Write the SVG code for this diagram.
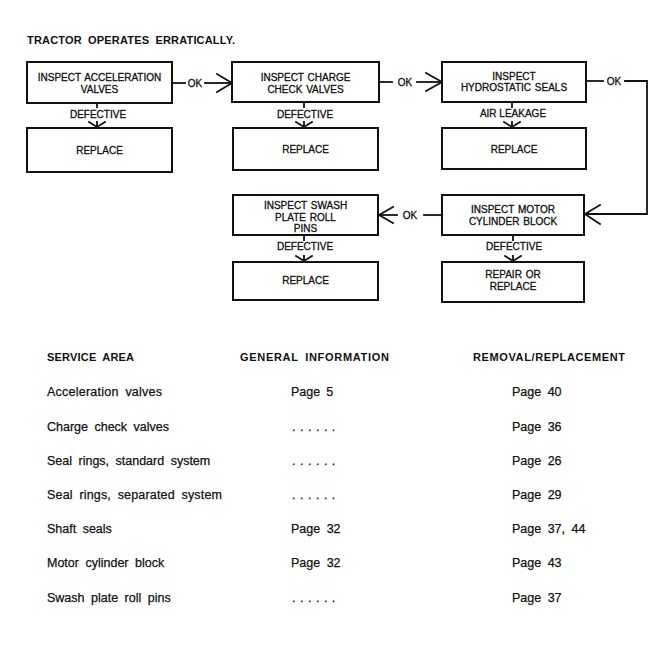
<svg xmlns="http://www.w3.org/2000/svg" width="667" height="668" viewBox="0 0 667 668">
<style>
.bg{fill:#fff}
.box{fill:#fff;stroke:#111;stroke-width:2}
.ln{fill:none;stroke:#111;stroke-width:1.8;stroke-linecap:square}
.bt{font-family:"Liberation Sans",Arial,sans-serif;font-size:10px;fill:#111;stroke:#111;stroke-width:0.3;text-anchor:middle;word-spacing:1px}
.lb{font-family:"Liberation Sans",Arial,sans-serif;font-size:10px;fill:#111;stroke:#111;stroke-width:0.3;text-anchor:middle}
.title{font-family:"Liberation Sans",Arial,sans-serif;font-size:11px;font-weight:bold;fill:#111;word-spacing:3px}
.th{font-family:"Liberation Sans",Arial,sans-serif;font-size:11px;font-weight:bold;fill:#111;word-spacing:3px}
.td{font-family:"Liberation Sans",Arial,sans-serif;font-size:12.5px;fill:#111;stroke:#111;stroke-width:0.25;word-spacing:3px}
.dots{font-family:"Liberation Sans",Arial,sans-serif;font-size:12.5px;fill:#111;stroke:#111;stroke-width:0.25;letter-spacing:4.5px}
</style>
<rect class="bg" x="0" y="0" width="667" height="668"/>
<text class="title" x="27" y="44" textLength="208" lengthAdjust="spacing">TRACTOR OPERATES ERRATICALLY.</text>

<g id="connectors">
  <line class="ln" x1="172" y1="83" x2="185" y2="83"/>
  <text class="lb" x="195" y="87">OK</text>
  <line class="ln" x1="205" y1="83" x2="231" y2="83"/>
  <polyline class="ln" points="217,74 232,83 217,92"/>

  <line class="ln" x1="379" y1="82" x2="392" y2="82"/>
  <text class="lb" x="405" y="86">OK</text>
  <line class="ln" x1="417" y1="82" x2="441" y2="82"/>
  <polyline class="ln" points="426,73 442,82 426,91"/>

  <line class="ln" x1="586" y1="81" x2="603" y2="81"/>
  <text class="lb" x="614" y="85">OK</text>
  <polyline class="ln" points="625,81 647,81 647,214 586,214"/>
  <polyline class="ln" points="600,205 585,214 600,224"/>

  <line class="ln" x1="442" y1="215" x2="424" y2="215"/>
  <text class="lb" x="410" y="219">OK</text>
  <line class="ln" x1="397" y1="215" x2="380" y2="215"/>
  <polyline class="ln" points="393,207 379,215 393,223"/>

  <line class="ln" x1="97" y1="103" x2="97" y2="107"/>
  <text class="lb" x="98" y="118">DEFECTIVE</text>
  <polyline class="ln" points="89,122 97,127 105,122"/>
  <line class="ln" x1="97" y1="122" x2="97" y2="127"/>

  <line class="ln" x1="304" y1="102" x2="304" y2="107"/>
  <text class="lb" x="305" y="118">DEFECTIVE</text>
  <polyline class="ln" points="296,122 304,127 312,122"/>
  <line class="ln" x1="304" y1="122" x2="304" y2="127"/>

  <line class="ln" x1="512" y1="102" x2="512" y2="107"/>
  <text class="lb" x="513" y="117">AIR LEAKAGE</text>
  <polyline class="ln" points="504,122 512,127 520,122"/>
  <line class="ln" x1="512" y1="122" x2="512" y2="127"/>

  <line class="ln" x1="304" y1="235" x2="304" y2="240"/>
  <text class="lb" x="305" y="250">DEFECTIVE</text>
  <polyline class="ln" points="296,256 304,261 312,256"/>
  <line class="ln" x1="304" y1="256" x2="304" y2="261"/>

  <line class="ln" x1="513" y1="235" x2="513" y2="240"/>
  <text class="lb" x="514" y="250">DEFECTIVE</text>
  <polyline class="ln" points="505,256 513,261 521,256"/>
  <line class="ln" x1="513" y1="256" x2="513" y2="261"/>
</g>

<g id="n1"><rect class="box" x="27" y="62" width="145" height="41"/>
<text class="bt" x="99.5" y="81">INSPECT ACCELERATION</text><text class="bt" x="99.5" y="93">VALVES</text></g>
<g id="r1"><rect class="box" x="27" y="128" width="145" height="44"/>
<text class="bt" x="99.5" y="154">REPLACE</text></g>

<g id="n2"><rect class="box" x="232" y="62" width="147" height="40"/>
<text class="bt" x="305.5" y="81">INSPECT CHARGE</text><text class="bt" x="305.5" y="93">CHECK VALVES</text></g>
<g id="r2"><rect class="box" x="233" y="128" width="145" height="42"/>
<text class="bt" x="305.5" y="153">REPLACE</text></g>

<g id="n3"><rect class="box" x="442" y="62" width="144" height="40"/>
<text class="bt" x="514" y="80">INSPECT</text><text class="bt" x="514" y="91">HYDROSTATIC SEALS</text></g>
<g id="r3"><rect class="box" x="442" y="128" width="144" height="41"/>
<text class="bt" x="514" y="153">REPLACE</text></g>

<g id="n4"><rect class="box" x="442" y="195" width="142" height="40"/>
<text class="bt" x="513" y="213">INSPECT MOTOR</text><text class="bt" x="513" y="225">CYLINDER BLOCK</text></g>
<g id="r4"><rect class="box" x="442" y="262" width="142" height="40"/>
<text class="bt" x="513" y="278">REPAIR OR</text><text class="bt" x="513" y="290">REPLACE</text></g>

<g id="n5"><rect class="box" x="233" y="195" width="145" height="40"/>
<text class="bt" x="305.5" y="209">INSPECT SWASH</text><text class="bt" x="305.5" y="221">PLATE ROLL</text><text class="bt" x="305.5" y="232">PINS</text></g>
<g id="r5"><rect class="box" x="233" y="262" width="145" height="38"/>
<text class="bt" x="305.5" y="284">REPLACE</text></g>

<g id="table">
  <text class="th" x="47" y="361" textLength="87" lengthAdjust="spacing">SERVICE AREA</text>
  <text class="th" x="240" y="361" textLength="149" lengthAdjust="spacing">GENERAL INFORMATION</text>
  <text class="th" x="473" y="361" textLength="152" lengthAdjust="spacing">REMOVAL/REPLACEMENT</text>

  <text class="td" x="47" y="396" textLength="115" lengthAdjust="spacing">Acceleration valves</text>
  <text class="td" x="291" y="396">Page<tspan dx="6">5</tspan></text>
  <text class="td" x="512" y="396">Page 40</text>

  <text class="td" x="47" y="431">Charge check valves</text>
  <text class="dots" x="292" y="431">......</text>
  <text class="td" x="512" y="431">Page 36</text>

  <text class="td" x="47" y="465">Seal rings, standard system</text>
  <text class="dots" x="292" y="465">......</text>
  <text class="td" x="512" y="465">Page 26</text>

  <text class="td" x="47" y="499" textLength="175" lengthAdjust="spacing">Seal rings, separated system</text>
  <text class="dots" x="292" y="499">......</text>
  <text class="td" x="512" y="499">Page 29</text>

  <text class="td" x="47" y="533">Shaft seals</text>
  <text class="td" x="291" y="533">Page 32</text>
  <text class="td" x="512" y="533">Page 37, 44</text>

  <text class="td" x="47" y="567">Motor cylinder block</text>
  <text class="td" x="291" y="567">Page 32</text>
  <text class="td" x="512" y="567">Page 43</text>

  <text class="td" x="47" y="602">Swash plate roll pins</text>
  <text class="dots" x="292" y="602">......</text>
  <text class="td" x="512" y="602">Page 37</text>
</g>
</svg>
